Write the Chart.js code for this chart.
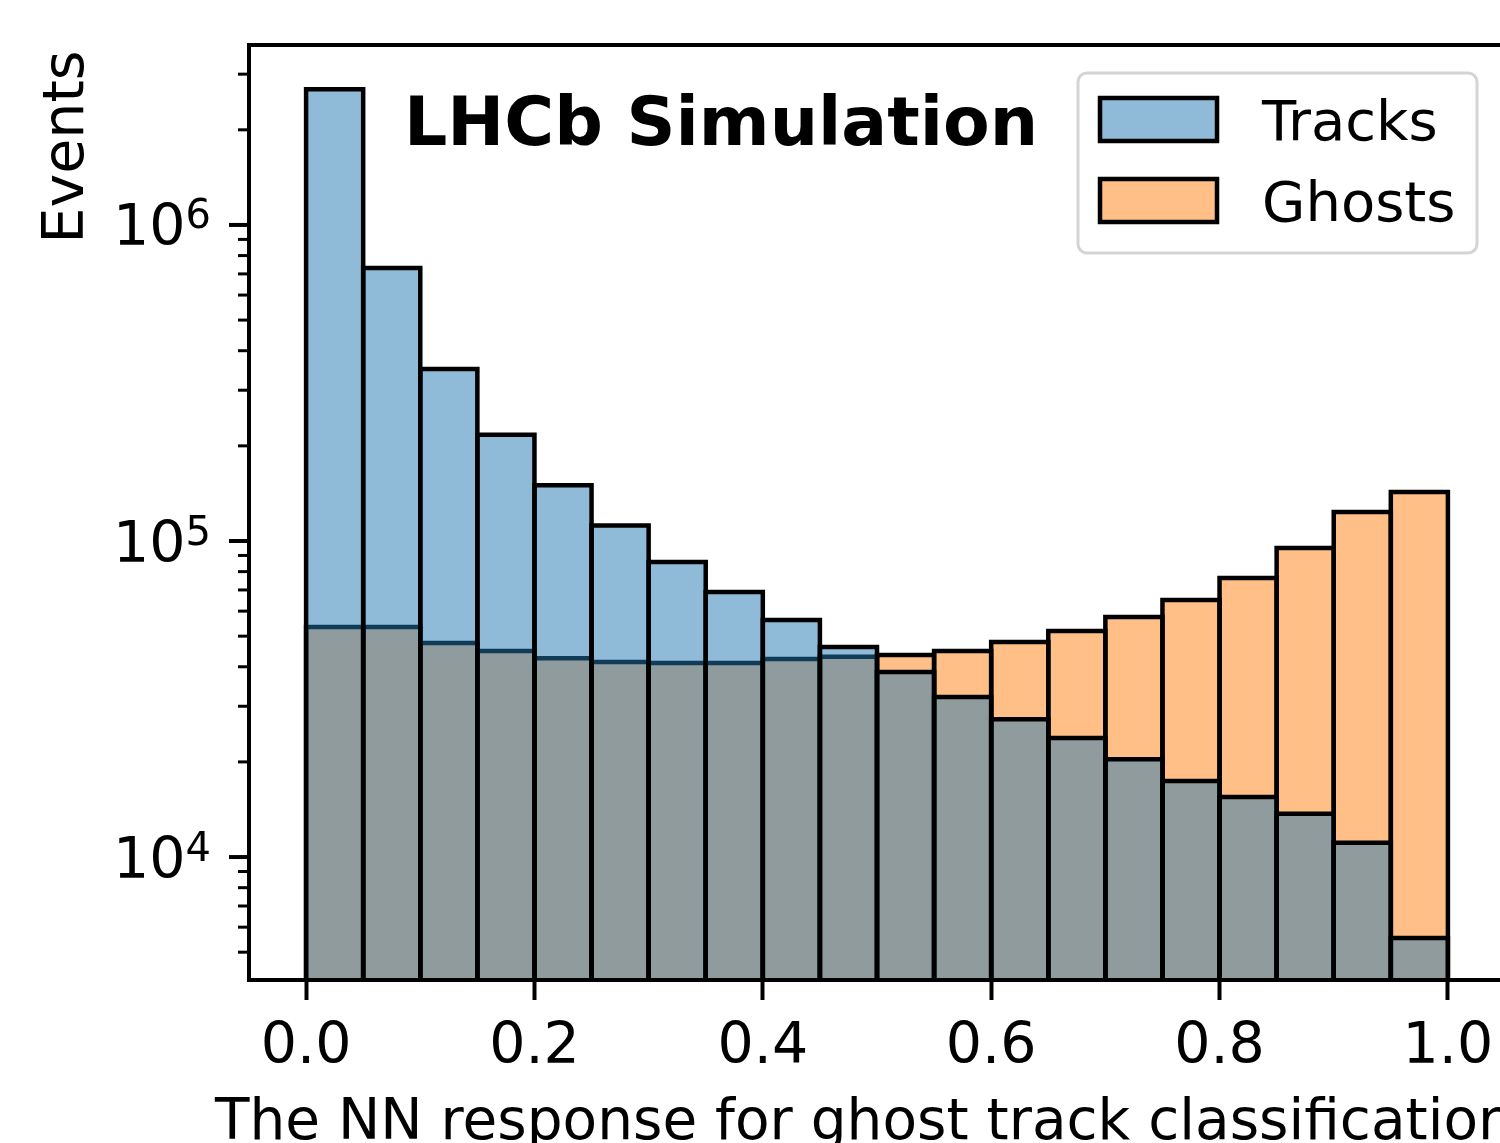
<!DOCTYPE html>
<html>
<head>
<meta charset="utf-8">
<script src="https://cdn.jsdelivr.net/npm/chart.js@4.4.0/dist/chart.umd.min.js"></script>
<style>
html, body { margin: 0; padding: 0; background: #fff; overflow: hidden; }
#wrap { width: 1500px; height: 1143px; overflow: hidden; }
canvas { display: block; }
</style>
</head>
<body>
<div id="wrap"><canvas id="hist" width="1560" height="1143"></canvas></div>
<script>
// bin centres of the 20 NN-response bins (width 0.05)
const binCenters = [0.025, 0.075, 0.125, 0.175, 0.225, 0.275, 0.325, 0.375, 0.425, 0.475,
                    0.525, 0.575, 0.625, 0.675, 0.725, 0.775, 0.825, 0.875, 0.925, 0.975];
// events per bin
const tracks = [2.69e6, 7.31e5, 3.50e5, 2.17e5, 1.50e5, 1.12e5, 8.58e4, 6.90e4, 5.62e4, 4.62e4,
                3.85e4, 3.21e4, 2.73e4, 2.38e4, 2.04e4, 1.74e4, 1.55e4, 1.37e4, 1.11e4, 5.54e3];
const ghosts = [5.34e4, 5.34e4, 4.76e4, 4.49e4, 4.26e4, 4.14e4, 4.11e4, 4.11e4, 4.23e4, 4.30e4,
                4.36e4, 4.49e4, 4.79e4, 5.19e4, 5.75e4, 6.51e4, 7.64e4, 9.50e4, 1.235e5, 1.43e5];
const xTicks = [0.0, 0.2, 0.4, 0.6, 0.8, 1.0];
const yMajorTicks = [1e4, 1e5, 1e6];
const yMajorExp = ['4', '5', '6'];
const xRange = [-0.05, 1.05];
const yRange = [4083, 3.71e6];

const FONT = "'DejaVu Sans', sans-serif";
const blueFill = 'rgba(31,119,180,0.5)';
const orangeFill = 'rgba(255,127,14,0.5)';
const EDGE = 4.5;

function roundRect(ctx, x, y, w, h, r) {
    ctx.beginPath();
    ctx.moveTo(x + r, y);
    ctx.arcTo(x + w, y, x + w, y + h, r);
    ctx.arcTo(x + w, y + h, x, y + h, r);
    ctx.arcTo(x, y + h, x, y, r);
    ctx.arcTo(x, y, x + w, y, r);
    ctx.closePath();
}

const decor = {
    id: 'decor',
    // histogram edges, centred on the bin boundaries, right after each dataset
    afterDatasetDraw(chart, args) {
        const ctx = chart.ctx;
        const a = chart.chartArea;
        ctx.save();
        ctx.beginPath();
        ctx.rect(a.left, a.top, a.right - a.left, a.bottom - a.top);
        ctx.clip();
        ctx.strokeStyle = '#000';
        ctx.lineWidth = EDGE;
        ctx.lineJoin = 'miter';
        args.meta.data.forEach((bar) => {
            const p = bar.getProps(['x', 'y', 'base', 'width'], true);
            const l = p.x - p.width / 2, r = p.x + p.width / 2;
            ctx.beginPath();
            ctx.moveTo(l, p.base + 10);
            ctx.lineTo(l, p.y);
            ctx.lineTo(r, p.y);
            ctx.lineTo(r, p.base + 10);
            ctx.stroke();
        });
        ctx.restore();
    },
    afterDatasetsDraw(chart) {
        const ctx = chart.ctx;
        const a = chart.chartArea;
        const ys = chart.scales.y;
        ctx.save();
        ctx.strokeStyle = '#000';
        // frame
        ctx.lineWidth = 4;
        ctx.strokeRect(a.left, a.top, a.right - a.left, a.bottom - a.top);
        // minor ticks on log axis
        ctx.lineWidth = 3;
        for (let e = 3; e <= 6; e++) {
            for (let m = 2; m <= 9; m++) {
                const v = m * Math.pow(10, e);
                if (v < ys.min || v > ys.max) continue;
                const py = ys.getPixelForValue(v);
                ctx.beginPath();
                ctx.moveTo(a.left - 11, py);
                ctx.lineTo(a.left, py);
                ctx.stroke();
            }
        }
        // major ticks + labels
        ctx.lineWidth = 4;
        ctx.fillStyle = '#000';
        ctx.textBaseline = 'alphabetic';
        ctx.textAlign = 'left';
        yMajorTicks.forEach((v, i) => {
            const py = ys.getPixelForValue(v);
            ctx.beginPath();
            ctx.moveTo(a.left - 20, py);
            ctx.lineTo(a.left, py);
            ctx.stroke();
            ctx.font = '57px ' + FONT;
            const wb = ctx.measureText('10').width;
            ctx.font = '40px ' + FONT;
            const we = ctx.measureText(yMajorExp[i]).width;
            const x0 = 211 - wb - we;
            ctx.font = '57px ' + FONT;
            ctx.fillText('10', x0, py + 20.5);
            ctx.font = '40px ' + FONT;
            ctx.fillText(yMajorExp[i], x0 + wb, py + 3.5);
        });
        ctx.restore();
    },
    afterDraw(chart) {
        const ctx = chart.ctx;
        ctx.save();
        ctx.fillStyle = '#000';
        // axis titles
        ctx.font = '56.5px ' + FONT;
        ctx.textBaseline = 'alphabetic';
        ctx.textAlign = 'left';
        ctx.fillText('The NN response for ghost track classification', 215, 1139);
        ctx.font = '57px ' + FONT;
        ctx.textAlign = 'center';
        ctx.save();
        ctx.translate(83, 147);
        ctx.rotate(-Math.PI / 2);
        ctx.fillText('Events', 0, 0);
        ctx.restore();
        // experiment label
        ctx.font = 'bold 68px ' + FONT;
        ctx.textAlign = 'left';
        ctx.fillText('LHCb Simulation', 404, 145);
        // legend
        roundRect(ctx, 1078, 73, 399, 180, 9);
        ctx.fillStyle = 'rgba(255,255,255,0.8)';
        ctx.fill();
        ctx.lineWidth = 3;
        ctx.strokeStyle = '#d4d4d4';
        ctx.stroke();
        const rows = [119, 200];
        chart.data.datasets.forEach((ds, i) => {
            const cy = rows[i];
            ctx.fillStyle = '#fff';
            ctx.fillRect(1100, cy - 21, 117, 43);
            ctx.fillStyle = ds.backgroundColor;
            ctx.fillRect(1100, cy - 21, 117, 43);
            ctx.lineWidth = EDGE;
            ctx.strokeStyle = '#000';
            ctx.strokeRect(1100, cy - 21, 117, 43);
            ctx.fillStyle = '#000';
            ctx.font = '56px ' + FONT;
            ctx.textAlign = 'left';
            ctx.fillText(ds.label, 1262, cy + 21);
        });
        ctx.restore();
    }
};

new Chart(document.getElementById('hist'), {
    type: 'bar',
    data: {
        datasets: [
            {
                label: 'Tracks',
                data: binCenters.map((x, i) => ({ x: x, y: tracks[i] })),
                backgroundColor: blueFill,
                borderWidth: 0
            },
            {
                label: 'Ghosts',
                data: binCenters.map((x, i) => ({ x: x, y: ghosts[i] })),
                backgroundColor: orangeFill,
                borderWidth: 0
            }
        ]
    },
    options: {
        responsive: false,
        animation: false,
        devicePixelRatio: 1,
        layout: { padding: { left: 0, right: 55, top: 45, bottom: 0 } },
        datasets: {
            bar: {
                grouped: false,
                barPercentage: 1,
                categoryPercentage: 1,
                inflateAmount: 0
            }
        },
        plugins: {
            legend: { display: false },
            tooltip: { enabled: false }
        },
        scales: {
            x: {
                type: 'linear',
                offset: false,
                min: xRange[0],
                max: xRange[1],
                afterBuildTicks: (scale) => { scale.ticks = xTicks.map(v => ({ value: v })); },
                afterFit: (scale) => { scale.height = 1143 - 980; },
                ticks: {
                    autoSkip: false,
                    maxRotation: 0,
                    padding: 14,
                    color: '#000',
                    font: { family: FONT, size: 57 },
                    callback: (v) => Number(v).toFixed(1)
                },
                grid: {
                    offset: false,
                    drawOnChartArea: false,
                    drawTicks: true,
                    tickLength: 20,
                    tickWidth: 4,
                    tickColor: '#000'
                },
                border: { display: false }
            },
            y: {
                type: 'logarithmic',
                min: yRange[0],
                max: yRange[1],
                afterFit: (scale) => { scale.width = 249; },
                ticks: { display: false },
                grid: { display: false },
                border: { display: false }
            }
        }
    },
    plugins: [decor]
});
</script>
</body>
</html>
